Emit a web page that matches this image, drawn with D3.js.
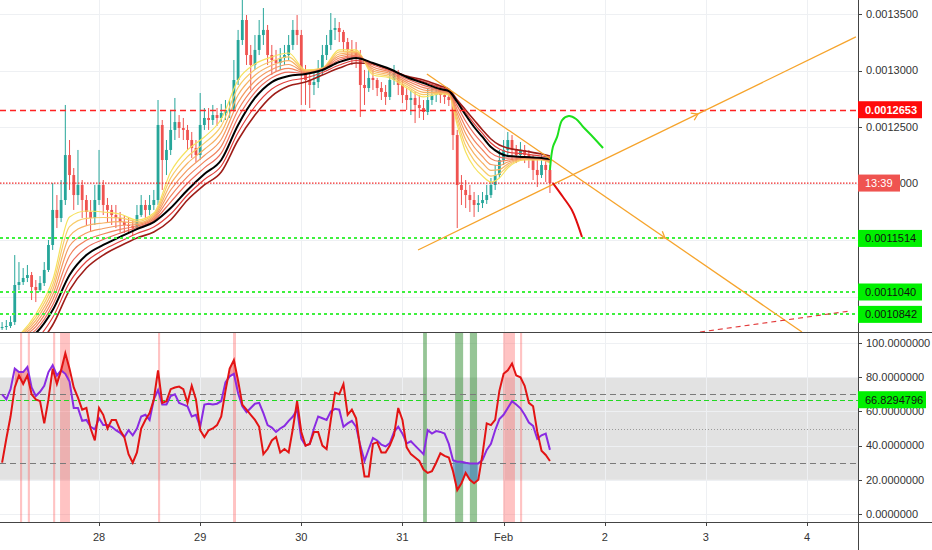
<!DOCTYPE html>
<html>
<head>
<meta charset="utf-8">
<script src="https://cdn.jsdelivr.net/npm/d3@7"></script>
<style>
  body { margin: 0; background: #fff; }
  svg { display: block; font-family: "Liberation Sans", Arial, sans-serif; }
</style>
</head>
<body>
<div id="chart"></div>
<script>
// prices are stored in units of 1e-7 (12653 -> 0.0012653)
// time is hours since 27 Jan 00:00, one candle per hour
const firstHour = 1
const firstOpen = 10721

const closes = [
  10730,10739,10774,11102,11128,11164,11190,11084,11057,11119,
  11235,11456,11766,11695,11854,12252,12075,11898,11987,11854,
  11748,11695,11854,11987,11810,11766,11721,11695,11659,11633,
  11624,11606,11721,11810,11766,11810,11854,12518,12208,12297,
  12474,12544,12491,12474,12385,12314,12252,12518,12580,12562,
  12606,12580,12624,12651,12651,12916,13270,13447,13137,13049,
  13182,13314,13359,13137,13093,13066,13111,13137,13226,13359,
  13314,13005,12916,12872,12898,13005,13137,13226,13359,13376,
  13341,13252,13182,13164,13137,12872,12845,12934,12916,12845,
  12810,12766,12916,12978,12872,12783,12739,12757,12695,12668,
  12633,12739,12783,12810,12783,12766,12739,12429,11987,11943,
  11898,11854,11810,11827,11854,11898,11987,12075,12208,12297,
  12385,12297,12252,12297,12252,12208,12120,12075,12164,12120,
  12004
]
const highs = [
  10774,10792,10827,11367,11305,11252,11279,11217,11146,11181,
  11305,11500,12004,11898,12031,12695,12385,12137,12297,12031,
  11898,11854,11987,12297,12031,11872,11810,11810,11748,11721,
  11695,11677,11810,11898,11854,11898,11943,12739,12562,12385,
  12651,12757,12606,12580,12518,12456,12385,12801,12668,12668,
  12695,12668,12704,12739,12739,13093,13359,13624,13491,13226,
  13314,13447,13553,13403,13226,13182,13199,13226,13314,13447,
  13491,13359,13049,12987,13005,13093,13226,13314,13509,13465,
  13429,13359,13288,13270,13252,13182,13005,13005,13005,12934,
  12898,12872,13005,13049,13005,12916,12845,12828,12810,12783,
  12739,12845,12872,12872,12863,12845,12810,12757,12474,12075,
  12031,11987,11925,11898,11925,11987,12049,12164,12297,12385,
  12456,12429,12341,12367,12341,12297,12252,12208,12252,12208,
  12164
]
const lows = [
  10704,10704,10721,10748,11057,11102,11128,10969,10951,11040,
  11093,11217,11412,11606,11659,11810,11943,11766,11810,11695,
  11633,11571,11633,11810,11721,11659,11633,11606,11571,11562,
  11553,11544,11589,11704,11695,11721,11766,11810,11943,12075,
  12252,12385,12403,12385,12297,12226,12190,12208,12474,12474,
  12518,12509,12544,12562,12580,12633,12872,13226,13049,12828,
  13005,13137,13226,13049,12960,12987,13005,13049,13093,13182,
  13226,12695,12695,12668,12783,12845,12960,13093,13182,13270,
  13252,13164,13093,13049,13022,12589,12695,12810,12828,12774,
  12739,12695,12739,12872,12783,12712,12651,12606,12535,12580,
  12562,12606,12695,12721,12712,12704,12686,12297,11606,11810,
  11783,11748,11704,11748,11783,11819,11872,11943,12049,12164,
  12252,12208,12181,12208,12181,12137,12031,11969,12049,12013,
  11916
]

// moving average ribbon, every few hours
const ribbonHours = [1,5,9,13,17,21,25,29,33,37,41,45,49,53,57,61,65,69,73,77,81,85,89,93,97,101,105,107,109,111,113,115,117,119,121,125,129,131]
const emaFast = [10571,10659,10845,11146,11704,11757,11748,11730,11677,11739,12102,12297,12412,12571,12916,13058,13120,13155,13005,13022,13182,13182,12960,12934,12845,12766,12792,12783,12518,12279,12146,12066,12013,12049,12137,12208,12208,12181]
const emaMid = [10571,10615,10677,10880,11190,11367,11456,11527,11597,11659,11783,11943,12084,12208,12518,12757,12898,12951,12969,13005,13075,13111,13066,13013,12943,12889,12836,12819,12721,12606,12500,12412,12323,12270,12243,12235,12226,12217]
const emaSlow = [10526,10544,10571,10748,11057,11252,11367,11447,11518,11571,11677,11854,11987,12102,12385,12606,12774,12863,12898,12960,13022,13066,13058,13005,12951,12916,12863,12836,12739,12651,12562,12474,12394,12341,12314,12288,12261,12243]

// oscillator pane, one value per candle
const oscRed = [
  30,44,57,74,81,76,81,70,67,66,
  53,67,85,76,84,94,85,74,68,61,
  62,50,43,62,58,50,55,55,49,45,
  35,30,36,50,55,59,67,84,65,66,
  73,74,74.5,73,65,75,67,49,45,49,
  50,52,57,72,85,90,78,64,61,58,
  55,51,35,38,43,45,36,38,36,50,
  66,48,40,41,48,48,40,38,55,71,
  70,76,58,61,56,38,22,22,41,42,
  36,36,40,46,62,55,39,35,33,31,
  26,24,25,30,35.5,34,33,25,14,18,
  24,20,18,20,35,53,52,55,72,82,
  84,88,81,80,75,65,63,48,37,34.5,
  31
]
const oscPurple = [
  70,67,73,85,83,83,86,74,69,71.5,
  75,83,87,81,84,82,77.5,62,62,54.5,
  55,51,49.5,56,52,52,51,49,47.5,45,
  49,46,50,57,58,55,67,72.5,64,64,
  69,70,65,64,63,57,58,51,64,64.5,
  64,64.5,66,77,80.5,82,70.6,63,59.5,62,
  64.5,65,59,52,50.5,48,50,51.5,54.5,57,
  61,44,40,41,50,57,56,55,60,61.5,
  61,51,53,54.5,51,40,31,38,44.5,43,
  40.5,39.5,41.5,48,51,47,41.3,42.5,40,37.5,
  35,49,47,48.5,48,47,41,31.5,30.6,30.6,
  30,29.6,29.6,29.6,31.6,37.5,41,49,55.5,58,
  62,66,64,61.8,58,53.5,51.5,44,46,47,
  37.5
]
const oscSignal = 66.8294796

// highlighted candles in the oscillator pane [from hour, to hour]
const sellBars = [[5.25,5.75],[7.1,7.6],[13.1,13.6],[14.75,17.1],[38,38.5],[55.8,56.5],[119.9,122.7],[123.9,124.4]]
const buyBars = [[100.9,101.8],[108.5,110.4],[112,113.7]]

// drawn levels and lines [hour, price]
const resistance = 12653
const supports = [11514, 11040, 10842]
const trendLines = [
  {from: [101.8, 12969], to: [190.8, 10686], arrow: [158.3, 11518]},
  {from: [99.7, 11412], to: [203.6, 13297], arrow: [166.1, 12615]}
]
const lowerDashed = [[166.6, 10686], [202.2, 10872]]
const bullPath = [[131.0,12120],[131.7,12323],[132.7,12412],[133.9,12562],[135.5,12597],[137.2,12571],[138.9,12500],[141.2,12412],[143.6,12314]]
const bearPath = [[131.7,12004],[134.1,11881],[136.2,11766],[137.4,11659],[138.6,11527]]

// axes
const dayTicks = [24,48,72,96,120,144,168,192]
const dayLabels = ["28","29","30","31","Feb","2","3","4"]
const priceTicks = [13500,13000,12500,12000,11500,11000]
const oscTicks = [100,80,60,40,20,0]
const countdown = "13:39"

// ---------------------------------------------------------------
const W = 932, H = 550
const axisX = 858
const mainBottom = 332, oscTop = 333, oscBottom = 522

const svg = d3.select("#chart").append("svg").attr("width", W).attr("height", H)

const x = d3.scaleLinear().domain([0.5, 204.1]).range([0, axisX])
const yP = d3.scaleLinear().domain([10686, 13624]).range([mainBottom, 0])
const yO = d3.scaleLinear().domain([0, 100]).range([514, 343])
const fmtP = v => (v / 1e7).toFixed(7)
const crisp = v => Math.round(v) + 0.5

const defs = svg.append("defs")
defs.append("clipPath").attr("id", "clipMain").append("rect")
    .attr("x", 0).attr("y", 0).attr("width", axisX).attr("height", mainBottom)
defs.append("clipPath").attr("id", "clipOsc").append("rect")
    .attr("x", 0).attr("y", oscTop).attr("width", axisX).attr("height", oscBottom - oscTop)

const main = svg.append("g").attr("clip-path", "url(#clipMain)")
const osc = svg.append("g").attr("clip-path", "url(#clipOsc)")

// grid
main.selectAll(".vg").data(dayTicks).join("line")
    .attr("x1", d => crisp(x(d))).attr("x2", d => crisp(x(d))).attr("y1", 0).attr("y2", mainBottom)
    .attr("stroke", "#eef0f3")
main.selectAll(".hg").data(priceTicks).join("line")
    .attr("x1", 0).attr("x2", axisX).attr("y1", d => crisp(yP(d))).attr("y2", d => crisp(yP(d)))
    .attr("stroke", "#eef0f3")

// candles
const hours = closes.map((c, i) => firstHour + i)
const opens = closes.map((c, i) => i ? closes[i - 1] : firstOpen)
const up = "#26a69a", down = "#ef5350"
const candles = main.append("g")
candles.selectAll("line").data(closes).join("line")
    .attr("x1", (d, i) => x(hours[i])).attr("x2", (d, i) => x(hours[i]))
    .attr("y1", (d, i) => yP(highs[i])).attr("y2", (d, i) => yP(lows[i]))
    .attr("stroke", (d, i) => d >= opens[i] ? up : down).attr("stroke-width", 1)
candles.selectAll("rect").data(closes).join("rect")
    .attr("x", (d, i) => x(hours[i]) - 1.4).attr("width", 2.8)
    .attr("y", (d, i) => yP(Math.max(d, opens[i])))
    .attr("height", (d, i) => Math.max(1, Math.abs(yP(d) - yP(opens[i]))))
    .attr("fill", (d, i) => d >= opens[i] ? up : down)

// ribbon: strands spread evenly between the fast, middle and slow averages
const ribbonColors = ["#f6e25e", "#f8cb68", "#f7b264", "#f49a60", "#f1835d", "#ec6c5b"]
const strands = []
ribbonColors.forEach((c, k) => strands.push({
  color: c, width: 1.2,
  vals: emaFast.map((f, i) => f + (emaMid[i] - f) * k / ribbonColors.length)
}))
strands.unshift({color: "#9e1d18", width: 1.6, vals: emaSlow})
strands.unshift({color: "#e2403d", width: 1.2, vals: emaMid.map((m, i) => (m + emaSlow[i]) / 2)})
strands.push({color: "#000", width: 2, vals: emaMid})

const ribbonLine = d3.line().curve(d3.curveMonotoneX)
main.append("g").selectAll("path").data(strands).join("path")
    .attr("d", s => ribbonLine(s.vals.map((v, i) => [x(ribbonHours[i]), yP(v)])))
    .attr("fill", "none").attr("stroke", s => s.color).attr("stroke-width", s => s.width)

// levels
main.append("line").attr("x1", 0).attr("x2", axisX)
    .attr("y1", crisp(yP(resistance))).attr("y2", crisp(yP(resistance)))
    .attr("stroke", "#ff2222").attr("stroke-width", 1.5).attr("stroke-dasharray", "6,4")
main.selectAll(".sup").data(supports).join("line")
    .attr("x1", 0).attr("x2", axisX).attr("y1", d => Math.round(yP(d))).attr("y2", d => Math.round(yP(d)))
    .attr("stroke", "#3ef03e").attr("stroke-width", 2).attr("stroke-dasharray", "3,3")
const last = closes[closes.length - 1]
main.append("line").attr("x1", 0).attr("x2", axisX)
    .attr("y1", yP(last)).attr("y2", yP(last))
    .attr("stroke", "#f02828").attr("stroke-width", 1.2).attr("stroke-dasharray", "1.5,1.5")

// trend lines with arrow heads
trendLines.forEach(t => {
  const x1 = x(t.from[0]), y1 = yP(t.from[1]), x2 = x(t.to[0]), y2 = yP(t.to[1])
  main.append("line").attr("x1", x1).attr("y1", y1).attr("x2", x2).attr("y2", y2)
      .attr("stroke", "#f6a42c").attr("stroke-width", 1.3)
  const ang = Math.atan2(y2 - y1, x2 - x1) * 180 / Math.PI
  main.append("path").attr("d", "M-6,-4L0,0L-6,4")
      .attr("transform", `translate(${x(t.arrow[0])},${yP(t.arrow[1])}) rotate(${ang})`)
      .attr("fill", "none").attr("stroke", "#f6a42c").attr("stroke-width", 1.3)
})
main.append("line")
    .attr("x1", x(lowerDashed[0][0])).attr("y1", yP(lowerDashed[0][1]))
    .attr("x2", x(lowerDashed[1][0])).attr("y2", yP(lowerDashed[1][1]))
    .attr("stroke", "#e23a3a").attr("stroke-width", 1.2).attr("stroke-dasharray", "5,4")

// projected paths
const projLine = d3.line().curve(d3.curveCatmullRom).x(d => x(d[0])).y(d => yP(d[1]))
main.append("path").attr("d", projLine(bullPath)).attr("fill", "none")
    .attr("stroke", "#1ee01e").attr("stroke-width", 2)
main.append("path").attr("d", projLine(bearPath)).attr("fill", "none")
    .attr("stroke", "#e00d0d").attr("stroke-width", 2)

// ---------------- oscillator pane
osc.append("rect").attr("x", 0).attr("width", axisX)
    .attr("y", yO(80)).attr("height", yO(20) - yO(80)).attr("fill", "#e2e2e2")
osc.selectAll(".vg").data(dayTicks).join("line")
    .attr("x1", d => crisp(x(d))).attr("x2", d => crisp(x(d))).attr("y1", oscTop).attr("y2", oscBottom)
    .attr("stroke", "#eef0f3")
osc.selectAll(".hg").data(oscTicks).join("line")
    .attr("x1", 0).attr("x2", axisX).attr("y1", d => crisp(yO(d))).attr("y2", d => crisp(yO(d)))
    .attr("stroke", "#eef0f3")

osc.selectAll(".sb").data(sellBars).join("rect")
    .attr("x", d => x(d[0])).attr("width", d => x(d[1]) - x(d[0]))
    .attr("y", oscTop).attr("height", oscBottom - oscTop)
    .attr("fill", "#ff5252").attr("opacity", 0.35)
osc.selectAll(".bb").data(buyBars).join("rect")
    .attr("x", d => x(d[0])).attr("width", d => x(d[1]) - x(d[0]))
    .attr("y", oscTop).attr("height", oscBottom - oscTop)
    .attr("fill", "#2e8b2e").attr("opacity", 0.5)

osc.selectAll(".dl").data([70, 30]).join("line")
    .attr("x1", 0).attr("x2", axisX).attr("y1", d => crisp(yO(d))).attr("y2", d => crisp(yO(d)))
    .attr("stroke", "#7a7a7a").attr("stroke-dasharray", "6,4")
osc.append("line").attr("x1", 0).attr("x2", axisX).attr("y1", crisp(yO(50))).attr("y2", crisp(yO(50)))
    .attr("stroke", "#9a9a9a").attr("stroke-dasharray", "1,2")
osc.append("line").attr("x1", 0).attr("x2", axisX).attr("y1", crisp(yO(oscSignal))).attr("y2", crisp(yO(oscSignal)))
    .attr("stroke", "#22d922").attr("stroke-dasharray", "5,3")

const fillArea = cond => d3.area()
    .defined((d, i) => cond(i))
    .x((d, i) => x(hours[i])).y0((d, i) => yO(oscPurple[i])).y1((d, i) => yO(oscRed[i]))
osc.append("path").attr("d", fillArea(i => oscRed[i] > 70 && oscPurple[i] > 70)(closes))
    .attr("fill", "#e53935").attr("opacity", 0.45)
osc.append("path").attr("d", fillArea(i => oscRed[i] < 30 && oscPurple[i] < 32)(closes))
    .attr("fill", "#4a86c8").attr("opacity", 0.6)

const oscLine = d3.line().x((d, i) => x(hours[i])).y(d => yO(d))
osc.append("path").attr("d", oscLine(oscPurple)).attr("fill", "none")
    .attr("stroke", "#8a2be2").attr("stroke-width", 2)
osc.append("path").attr("d", oscLine(oscRed)).attr("fill", "none")
    .attr("stroke", "#e31414").attr("stroke-width", 2)

// ---------------- frame and axes
svg.append("line").attr("x1", 0).attr("x2", W).attr("y1", mainBottom + 0.5).attr("y2", mainBottom + 0.5)
    .attr("stroke", "#444")
svg.append("line").attr("x1", 0).attr("x2", W).attr("y1", oscBottom + 0.5).attr("y2", oscBottom + 0.5)
    .attr("stroke", "#444")
svg.append("line").attr("x1", axisX + 0.5).attr("x2", axisX + 0.5).attr("y1", 0).attr("y2", H)
    .attr("stroke", "#444")

// value tags on the price scale
const tags = [
  {y: yP(resistance), txt: fmtP(resistance), bg: "#ff0a0a", fg: "#fff", w: 64, bold: true},
  ...supports.map(s => ({y: yP(s), txt: fmtP(s), bg: "#00f000", fg: "#111", w: 64, bold: false})),
  {y: yP(closes[closes.length - 1]), txt: countdown, bg: "#ef5350", fg: "#fff", w: 42, bold: false, partial: true},
  {y: yO(oscSignal), txt: oscSignal.toFixed(7), bg: "#00f000", fg: "#111", w: 68, bold: false}
]

const ax = svg.append("g")
const axisText = (yv, txt) => {
  ax.append("line").attr("x1", axisX).attr("x2", axisX + 4).attr("y1", crisp(yv)).attr("y2", crisp(yv)).attr("stroke", "#444")
  const cover = tags.find(t => Math.abs(t.y - yv) < 9)
  if (cover && !cover.partial) return
  const t = ax.append("text").attr("x", axisX + 8).attr("y", yv).attr("dy", "0.35em")
      .attr("font-size", 11).attr("fill", "#333").text(txt)
  if (cover) {
    // only the tail of this label shows to the right of the countdown tag
    const end = axisX + 8 + t.node().getComputedTextLength()
    t.attr("x", end).attr("text-anchor", "end").text(txt.slice(-3))
  }
}
priceTicks.forEach(p => axisText(yP(p), fmtP(p)))
oscTicks.forEach(v => axisText(yO(v), v.toFixed(7)))

dayTicks.forEach((d, i) => {
  ax.append("line").attr("x1", crisp(x(d))).attr("x2", crisp(x(d))).attr("y1", oscBottom).attr("y2", oscBottom + 4).attr("stroke", "#444")
  ax.append("text").attr("x", x(d)).attr("y", 541).attr("text-anchor", "middle")
      .attr("font-size", 11).attr("fill", "#333").text(dayLabels[i])
})

tags.forEach(t => {
  ax.append("rect").attr("x", axisX).attr("y", t.y - 8.5).attr("width", t.w).attr("height", 17).attr("fill", t.bg)
  ax.append("text").attr("x", axisX + 7).attr("y", t.y).attr("dy", "0.35em")
      .attr("font-size", 11).attr("font-weight", t.bold ? "bold" : "normal").attr("fill", t.fg).text(t.txt)
})
</script>
</body>
</html>
